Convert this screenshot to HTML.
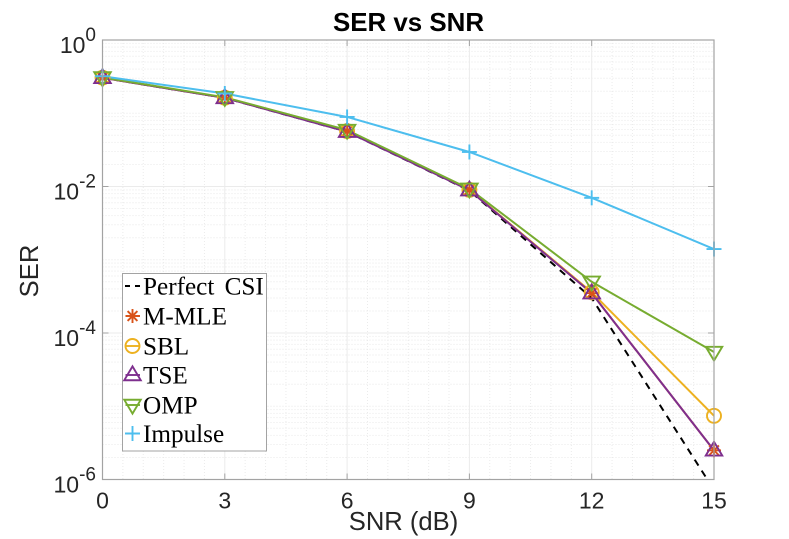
<!DOCTYPE html>
<html>
<head>
<meta charset="utf-8">
<style>
html,body{margin:0;padding:0;background:#fff;width:789px;height:539px;overflow:hidden}
svg{display:block}
text{font-family:"Liberation Sans",sans-serif;fill:#262626}
</style>
</head>
<body>
<svg id="chart" width="789" height="539" viewBox="0 0 789 539" xmlns="http://www.w3.org/2000/svg">
  <defs><clipPath id="plot-clip"><rect x="102.5" y="40" width="611.5" height="439.5"/></clipPath></defs>
  <rect x="102.5" y="40" width="611.5" height="439.5" fill="#fff"/>
  <g id="grid"></g>
  <g id="series" clip-path="url(#plot-clip)"></g>
  <g id="markers"></g>
  <rect x="102.5" y="40" width="611.5" height="439.5" fill="none" stroke="#a3a3a3" stroke-width="1.2"/>
  <g id="ticks"></g>
  <g id="labels"></g>
  <text x="408.5" y="31" text-anchor="middle" font-size="25.9" font-weight="bold" style="fill:#000">SER vs SNR</text>
  <text x="403.5" y="530" text-anchor="middle" font-size="25.6">SNR (dB)</text>
  <text transform="translate(38,271) rotate(-90)" text-anchor="middle" font-size="25.6">SER</text>
  <g id="legend">
    <rect x="122.5" y="273.5" width="144" height="177.5" fill="#fff" stroke="#a3a3a3" stroke-width="1"/>
  </g>
</svg>
<script>
const snrValues = [0, 3, 6, 9, 12, 15];
const perfectCsi = [0.305, 0.162, 0.056, 0.0088, 0.00030, 0.00000072];
const mMle = [0.305, 0.163, 0.057, 0.0090, 0.00035, 0.0000025];
const sbl = [0.306, 0.163, 0.057, 0.0090, 0.00036, 0.0000074];
const tse = [0.305, 0.162, 0.056, 0.0089, 0.00035, 0.0000025];
const omp = [0.308, 0.165, 0.059, 0.0093, 0.00050, 0.000055];
const impulse = [0.320, 0.186, 0.089, 0.0296, 0.0070, 0.00140];
const xTickLabels = [0, 3, 6, 9, 12, 15];
const yTickExponents = [0, -2, -4, -6];
const legendLabels = ["Perfect CSI", "M-MLE", "SBL", "TSE", "OMP", "Impulse"];

const NS = "http://www.w3.org/2000/svg";
const L = 102.5, R = 714, T = 40, B = 479.5;
const xMin = 0, xMax = 15, logMax = 0, logMin = -6;
function xScale(v) { return L + (v - xMin) / (xMax - xMin) * (R - L); }
function yScale(v) { return T + (logMax - Math.log10(v)) / (logMax - logMin) * (B - T); }
function make(tag, attrs, parent) {
  const el = document.createElementNS(NS, tag);
  for (const k in attrs) el.setAttribute(k, attrs[k]);
  parent.appendChild(el);
  return el;
}

const gridG = document.getElementById("grid");
const ticksG = document.getElementById("ticks");
const labelsG = document.getElementById("labels");
const seriesG = document.getElementById("series");
const markersG = document.getElementById("markers");
const legendG = document.getElementById("legend");

/* minor + major grid, x */
for (let v = xMin; v <= xMax; v += 0.5) {
  const major = v % 3 === 0;
  if (v === xMin || v === xMax) continue;
  const line = make("line", {x1: xScale(v), x2: xScale(v), y1: T, y2: B,
    stroke: major ? "#ebebeb" : "#ebebeb", "stroke-width": 1,
    "stroke-dasharray": major ? "none" : "1 2"}, gridG);
  
  
}
/* minor + major grid, y */
for (let d = logMin; d < logMax; d++) {
  for (let m = 1; m < 10; m++) {
    const val = m * Math.pow(10, d);
    if (m === 1 && d === logMin) continue;
    const major = m === 1 && d % 2 === 0;
    const line = make("line", {x1: L, x2: R, y1: yScale(val), y2: yScale(val),
      stroke: major ? "#ebebeb" : "#e8e8e8", "stroke-width": 1,
      "stroke-dasharray": major ? "none" : "1 2"}, gridG);
    
    
  }
}

/* ticks and tick labels */
xTickLabels.forEach(function (v) {
  const x = xScale(v);
  const t1 = make("line", {x1: x, x2: x, y1: B, y2: B - 6, stroke: "#a3a3a3", "stroke-width": 1}, ticksG);
  
  
  const t2 = make("line", {x1: x, x2: x, y1: T, y2: T + 6, stroke: "#a3a3a3", "stroke-width": 1}, ticksG);
  
  
  const label = make("text", {x: x, y: 508.5, "text-anchor": "middle", "font-size": 23}, labelsG);
  label.textContent = String(v);
  
  
});
yTickExponents.forEach(function (e) {
  const val = Math.pow(10, e);
  const y = yScale(val);
  const t1 = make("line", {x1: L, x2: L + 6, y1: y, y2: y, stroke: "#a3a3a3", "stroke-width": 1}, ticksG);
  
  
  const t2 = make("line", {x1: R, x2: R - 6, y1: y, y2: y, stroke: "#a3a3a3", "stroke-width": 1}, ticksG);
  
  
  const label = make("text", {x: 96, y: y + 13, "text-anchor": "end", "font-size": 23}, labelsG);
  
  
  const base = make("tspan", {}, label);
  base.textContent = "10";
  const sup = make("tspan", {dy: -12, "font-size": 19}, label);
  sup.textContent = String(e);
});

/* marker drawing */
function drawMarker(kind, cx, cy, color, parent, r) {
  const g = make("g", {fill: "none", stroke: color, "stroke-width": 1.9}, parent);
  if (kind === "star") {
    [[-1,0,1,0],[0,-1,0,1],[-0.7,-0.7,0.7,0.7],[-0.7,0.7,0.7,-0.7]].forEach(function (s) {
      make("line", {x1: cx + s[0]*r, y1: cy + s[1]*r, x2: cx + s[2]*r, y2: cy + s[3]*r}, g);
    });
  } else if (kind === "circle") {
    make("circle", {cx: cx, cy: cy, r: r}, g);
  } else if (kind === "up") {
    make("polygon", {points: (cx)+","+(cy-r*1.15)+" "+(cx+r*1.1)+","+(cy+r*0.7)+" "+(cx-r*1.1)+","+(cy+r*0.7)}, g);
  } else if (kind === "down") {
    make("polygon", {points: (cx)+","+(cy+r*1.15)+" "+(cx+r*1.1)+","+(cy-r*0.7)+" "+(cx-r*1.1)+","+(cy-r*0.7)}, g);
  } else if (kind === "plus") {
    make("line", {x1: cx - r, x2: cx + r, y1: cy, y2: cy}, g);
    make("line", {x1: cx, x2: cx, y1: cy - r, y2: cy + r}, g);
  }
  return g;
}

/* series */
const seriesList = [
  {name: "perfect-csi", values: perfectCsi, color: "#000000", marker: null, dash: "7 6"},
  {name: "m-mle", values: mMle, color: "#D95319", marker: "star", r: 7},
  {name: "sbl", values: sbl, color: "#EDB120", marker: "circle", r: 7},
  {name: "tse", values: tse, color: "#7E2F8E", marker: "up", r: 7.5},
  {name: "omp", values: omp, color: "#77AC30", marker: "down", r: 7.5},
  {name: "impulse", values: impulse, color: "#4DBEEE", marker: "plus", r: 7.5}
];
seriesList.forEach(function (s) {
  const pts = s.values.map(function (v, i) { return xScale(snrValues[i]) + "," + yScale(v); }).join(" ");
  const line = make("polyline", {points: pts, fill: "none", stroke: s.color, "stroke-width": 2,
    "stroke-dasharray": s.dash || "none"}, seriesG);
  
  
  if (s.marker) {
    s.values.forEach(function (v, i) {
      const m = drawMarker(s.marker, xScale(snrValues[i]), yScale(v), s.color, markersG, s.r);
      
      
    });
  }
});

/* legend */
const legendRowCenters = [286, 316, 346, 375, 405, 433.5];
legendLabels.forEach(function (label, i) {
  const s = seriesList[i];
  const cy = legendRowCenters[i];
  if (s.marker) {
    const m = drawMarker(s.marker, 132.5, cy, s.color, legendG, s.r);
    
    
    const ln = make("line", {x1: 125.5, x2: 140, y1: cy, y2: cy, stroke: s.color, "stroke-width": 1.9}, legendG);
    
    
  } else {
    const ln = make("line", {x1: 125, x2: 141, y1: cy, y2: cy, stroke: s.color, "stroke-width": 2, "stroke-dasharray": "5 5"}, legendG);
    
    
  }
  const t = make("text", {x: 143, y: cy + 8.5, "font-size": 25.2, style: "font-family:'Liberation Serif',serif;fill:#000"}, legendG);
  t.setAttribute("word-spacing", "4");
  t.textContent = label;
  
  
});
</script>
</body>
</html>
